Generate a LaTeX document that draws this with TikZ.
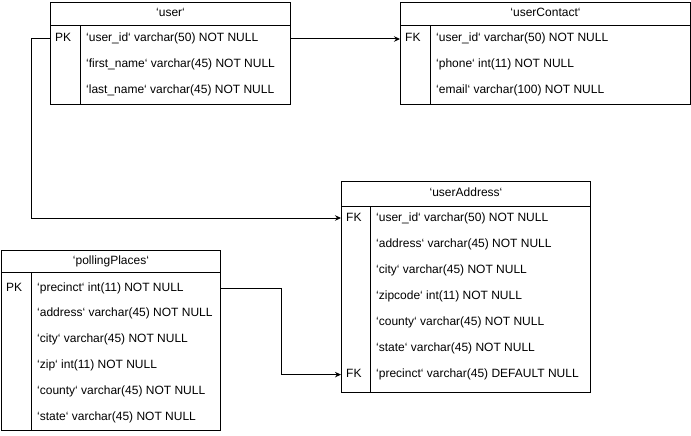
\documentclass[tikz,border=0pt]{standalone}
\usepackage{fontspec}
\setmainfont{Liberation Sans}
\usetikzlibrary{arrows.meta}
\newcommand\bq{\symbol{96}}
\begin{document}
\begin{tikzpicture}[x=1pt,y=-1pt,
  font=\fontsize{12}{14}\selectfont,
  tbl/.style={draw, line width=1pt, anchor=north west, inner sep=0pt},
  sep/.style={line width=1pt},
  fld/.style={anchor=west, inner sep=0pt, text height=8.6pt, text depth=2.6pt},
  ttl/.style={inner sep=0pt, text height=8.6pt, text depth=2.6pt},
  rel/.style={draw, line width=1pt, -{Stealth[length=6pt,width=5.5pt]}}]
\useasboundingbox (0,0) rectangle (691,436);

% ---- user
\node[tbl, minimum width=240pt, minimum height=102pt] (user) at (50,2) {};
\draw[sep] ([yshift=-24pt]user.north west) -- ([yshift=-24pt]user.north east);
\draw[sep] ([shift={(30pt,-24pt)}]user.north west) -- ([xshift=30pt]user.south west);
\node[ttl] (usert) at ([yshift=-12pt]user.north) {\bq user\bq};
\node[fld] (userk1) at (55,39) {PK};
\node[fld] (userr1) at (86,39) {\bq user\_id\bq{} varchar(50) NOT NULL};
\node[fld] (userr2) at (86,65) {\bq first\_name\bq{} varchar(45) NOT NULL};
\node[fld] (userr3) at (86,91) {\bq last\_name\bq{} varchar(45) NOT NULL};

% ---- userContact
\node[tbl, minimum width=290pt, minimum height=102pt] (ucon) at (400,2) {};
\draw[sep] ([yshift=-24pt]ucon.north west) -- ([yshift=-24pt]ucon.north east);
\draw[sep] ([shift={(30pt,-24pt)}]ucon.north west) -- ([xshift=30pt]ucon.south west);
\node[ttl] (ucont) at ([yshift=-12pt]ucon.north) {\bq userContact\bq};
\node[fld] (uconk1) at (405,39) {FK};
\node[fld] (uconr1) at (436,39) {\bq user\_id\bq{} varchar(50) NOT NULL};
\node[fld] (uconr2) at (436,65) {\bq phone\bq{} int(11) NOT NULL};
\node[fld] (uconr3) at (436,91) {\bq email\bq{} varchar(100) NOT NULL};

% ---- userAddress
\node[tbl, minimum width=249pt, minimum height=211pt] (uadd) at (341,181) {};
\draw[sep] ([yshift=-25pt]uadd.north west) -- ([yshift=-25pt]uadd.north east);
\draw[sep] ([shift={(29pt,-25pt)}]uadd.north west) -- ([xshift=29pt]uadd.south west);
\node[ttl] (uaddt) at ([yshift=-12.5pt]uadd.north) {\bq userAddress\bq};
\node[fld] (uaddk1) at (346,218) {FK};
\node[fld] (uaddk7) at (346,374.6) {FK};
\node[fld] (uaddr1) at (376,218) {\bq user\_id\bq{} varchar(50) NOT NULL};
\node[fld] (uaddr2) at (376,244.1) {\bq address\bq{} varchar(45) NOT NULL};
\node[fld] (uaddr3) at (376,270.2) {\bq city\bq{} varchar(45) NOT NULL};
\node[fld] (uaddr4) at (376,296.3) {\bq zipcode\bq{} int(11) NOT NULL};
\node[fld] (uaddr5) at (376,322.4) {\bq county\bq{} varchar(45) NOT NULL};
\node[fld] (uaddr6) at (376,348.5) {\bq state\bq{} varchar(45) NOT NULL};
\node[fld] (uaddr7) at (376,374.6) {\bq precinct\bq{} varchar(45) DEFAULT NULL};

% ---- pollingPlaces
\node[tbl, minimum width=219pt, minimum height=180pt] (poll) at (1,250) {};
\draw[sep] ([yshift=-22pt]poll.north west) -- ([yshift=-22pt]poll.north east);
\draw[sep] ([shift={(30pt,-22pt)}]poll.north west) -- ([xshift=30pt]poll.south west);
\node[ttl] (pollt) at ([yshift=-11pt]poll.north) {\bq pollingPlaces\bq};
\node[fld] (pollk1) at (6,288) {PK};
\node[fld] (pollr1) at (37,288) {\bq precinct\bq{} int(11) NOT NULL};
\node[fld] (pollr2) at (37,313.8) {\bq address\bq{} varchar(45) NOT NULL};
\node[fld] (pollr3) at (37,339.6) {\bq city\bq{} varchar(45) NOT NULL};
\node[fld] (pollr4) at (37,365.4) {\bq zip\bq{} int(11) NOT NULL};
\node[fld] (pollr5) at (37,391.2) {\bq county\bq{} varchar(45) NOT NULL};
\node[fld] (pollr6) at (37,417) {\bq state\bq{} varchar(45) NOT NULL};

% ---- relations
\draw[rel] (user.east |- userr1) -- (ucon.west |- uconr1);
\draw[rel] (user.west |- userr1) -- ++(-19,0) |- (uadd.west |- uaddr1);
\draw[rel] (poll.east |- pollr1) -- ++(60,0) |- (uadd.west |- uaddr7);
\end{tikzpicture}
\end{document}
